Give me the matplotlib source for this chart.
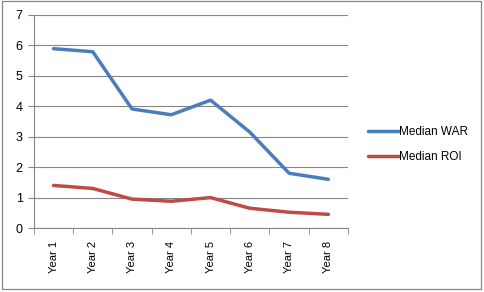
import matplotlib
matplotlib.use("Agg")
import matplotlib.pyplot as plt
from matplotlib.patches import Rectangle

years = ["Year 1", "Year 2", "Year 3", "Year 4", "Year 5", "Year 6", "Year 7", "Year 8"]
war = [5.89, 5.79, 3.91, 3.72, 4.2, 3.15, 1.8, 1.6]
roi = [1.4, 1.3, 0.95, 0.88, 1.0, 0.65, 0.52, 0.45]

plt.rcParams['font.family'] = ['Liberation Sans', 'DejaVu Sans']

fig = plt.figure(figsize=(4.84, 2.92), dpi=100)
ax = fig.add_axes([0.070, 0.219, 0.649, 0.730])

x = list(range(1, len(years) + 1))
ax.plot(x, war, color="#4A7EBB", lw=2.5, label="Median WAR", solid_capstyle="round", solid_joinstyle="round")
ax.plot(x, roi, color="#BE4B48", lw=2.5, label="Median ROI", solid_capstyle="round", solid_joinstyle="round")

ax.set_xlim(0.5, len(years) + 0.5)
ax.set_ylim(0, 7)
ax.set_yticks(range(0, 8))
ax.set_xticks(x)
ax.set_xticklabels(years, rotation=90, fontsize=8)
ax.tick_params(axis="x", length=0, pad=9)
ax.set_xticks([i + 0.5 for i in range(len(years) + 1)], minor=True)
ax.tick_params(axis="x", which="minor", length=4, color="#868686", direction="out")
ax.tick_params(axis="y", labelsize=9, length=4, color="#868686", pad=4)

ax.grid(axis="y", color="#868686", lw=0.8)
ax.set_axisbelow(True)
for s in ["top", "right"]:
    ax.spines[s].set_visible(False)
for s in ["left", "bottom"]:
    ax.spines[s].set_color("#868686")
    ax.spines[s].set_linewidth(0.8)

leg = ax.legend(loc="center left", bbox_to_anchor=(1.03, 0.39), frameon=False,
                fontsize=8.5, handlelength=2.6, handletextpad=0.05, labelspacing=1.1)

fig.patches.append(Rectangle((0.005, 0.010), 0.989, 0.985, transform=fig.transFigure,
                             fill=False, edgecolor="#868686", lw=0.9))

fig.savefig("out.png", dpi=100)
